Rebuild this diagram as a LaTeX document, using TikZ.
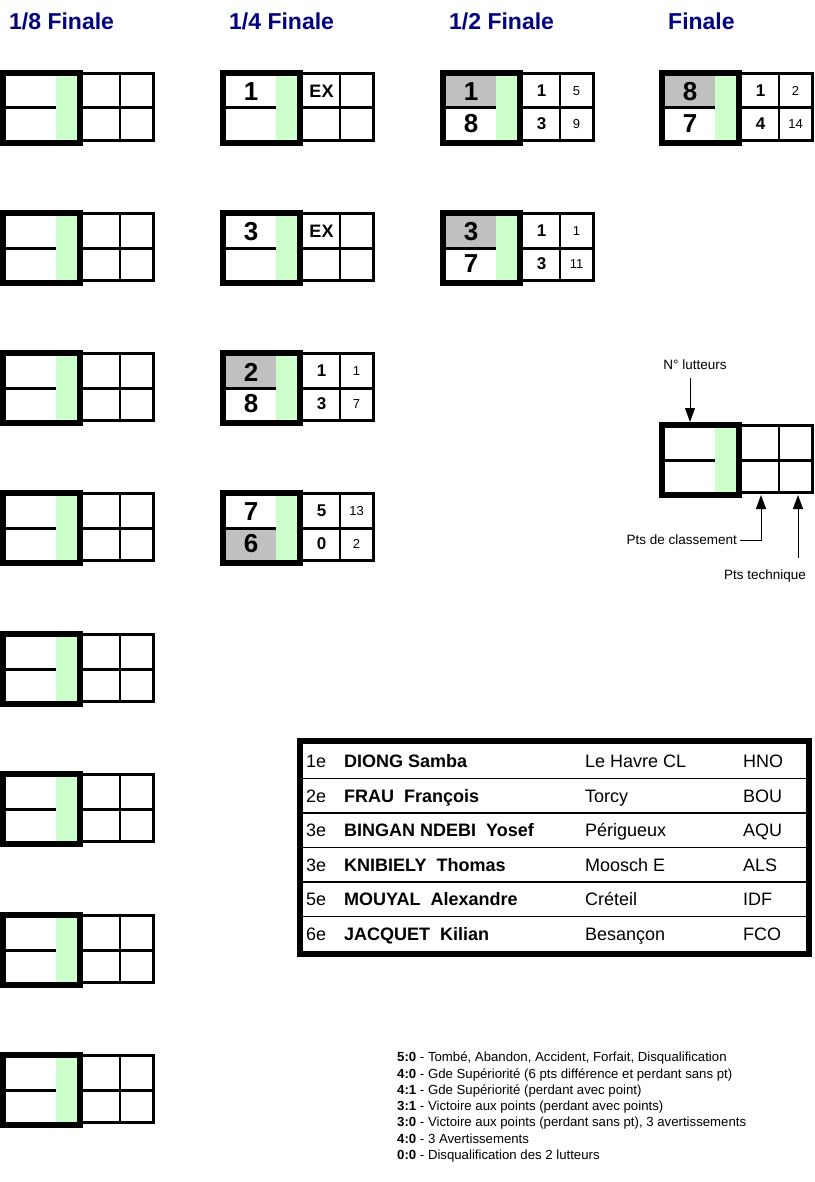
\documentclass[tikz,border=0pt]{standalone}
\usepackage{fontspec}
\setmainfont{Liberation Sans}
\usetikzlibrary{arrows.meta}
\definecolor{navytitle}{RGB}{0,0,128}
\definecolor{cellgreen}{RGB}{204,255,204}
\definecolor{cellgrey}{RGB}{192,192,192}
\tikzset{
  bignum/.style={font=\fontsize{26}{30}\selectfont\bfseries, inner sep=0pt},
  clsnum/.style={font=\fontsize{17}{20}\selectfont\bfseries, inner sep=0pt},
  tecnum/.style={font=\fontsize{13}{15}\selectfont, inner sep=0pt},
  titletext/.style={font=\fontsize{23}{27}\selectfont\bfseries, text=navytitle, anchor=base west, inner sep=0pt},
  tabtext/.style={font=\fontsize{18}{21}\selectfont, anchor=base west, inner sep=0pt},
  smalltext/.style={font=\fontsize{13.5}{16}\selectfont, inner sep=0pt},
  notetext/.style={font=\fontsize{13.2}{16}\selectfont, anchor=base west, inner sep=0pt},
  thickframe/.style={line width=6pt},
  midframe/.style={line width=3pt},
  thinline/.style={line width=1.5pt},
  legarrow/.style={line width=1pt, -{Triangle[length=14pt,width=10pt]}},
}
% #1 x0, #2 y0, #3 grey (t/b/n), #4 top wrestler, #5 bottom wrestler,
% #6 top class pts, #7 top tech pts, #8 bottom class pts, #9 bottom tech pts
\newcommand{\wbox}[9]{%
\begin{scope}[shift={(#1,#2)}]
  \fill[cellgreen] (56,6) rectangle (77,70);
  \if t#3 \fill[cellgrey] (6,6) rectangle (56,38); \fi
  \if b#3 \fill[cellgrey] (6,38) rectangle (56,70); \fi
  \draw[midframe] (80,3.5) rectangle (153.5,70.5);
  \draw[midframe] (80,38) -- (153.5,38);
  \draw[thinline] (120,3.5) -- (120,70.5);
  \draw[midframe] (6,38) -- (56,38);
  \draw[thickframe] (3,3) rectangle (80,73);
  \node[bignum] (w#1-#2-t) at (31,22) {#4};
  \node[bignum] (w#1-#2-b) at (31,54) {#5};
  \node[clsnum] (c#1-#2-t) at (101.5,21) {#6};
  \node[tecnum] (p#1-#2-t) at (136.5,21) {#7};
  \node[clsnum] (c#1-#2-b) at (101.5,54) {#8};
  \node[tecnum] (p#1-#2-b) at (136.5,54) {#9};
\end{scope}}
\begin{document}
\begin{tikzpicture}[x=1pt,y=-1pt]
\useasboundingbox[fill=white] (0,0) rectangle (814,1182);

% titles
\node[titletext] (t8) at (9,30) {1/8 Finale};
\node[titletext] (t4) at (229,30) {1/4 Finale};
\node[titletext] (t2) at (449,30) {1/2 Finale};
\node[titletext] (t1) at (668,30) {Finale};

% 1/8 finale
\foreach \yy in {70,210,350,490,631,771,912,1052}{
  \wbox{0}{\yy}{n}{}{}{}{}{}{}
}
% 1/4 finale
\wbox{220}{70}{n}{1}{}{\fontsize{18}{20}\selectfont EX}{}{}{}
\wbox{220}{210}{n}{3}{}{\fontsize{18}{20}\selectfont EX}{}{}{}
\wbox{220}{350}{t}{2}{8}{1}{1}{3}{7}
\wbox{220}{490}{b}{7}{6}{5}{13}{0}{2}
% 1/2 finale
\wbox{440}{70}{t}{1}{8}{1}{5}{3}{9}
\wbox{440}{210}{t}{3}{7}{1}{1}{3}{11}
% finale
\wbox{659}{70}{t}{8}{7}{1}{2}{4}{14}

% legend
\wbox{659}{422}{n}{}{}{}{}{}{}
\node[smalltext] (nl) at (695,365) {N° lutteurs};
\coordinate (nlstart) at (690,378);
\coordinate (nlend) at (690,422);
\draw[legarrow] (nlstart) -- (nlend);
\node[smalltext, anchor=east] (pc) at (737,540) {Pts de classement};
\coordinate (pcend) at (761,495);
\draw[legarrow] (pc.east) ++(3,0) -| (pcend);
\node[smalltext] (pt) at (765,576) {Pts technique};
\coordinate (ptstart) at (798,558);
\coordinate (ptend) at (798,495);
\draw[legarrow] (ptstart) -- (ptend);

% results table
\fill[white] (300,741) rectangle (809,954);
\foreach \k in {1,...,5}{
  \draw[thinline] (300,744+34.5*\k) -- (809,744+34.5*\k);
}
\draw[thickframe] (300,741) rectangle (809,954);
\foreach \rk/\nm/\cl/\rg [count=\i] in {
  1e/DIONG Samba/Le Havre CL/HNO,
  2e/FRAU~ François/Torcy/BOU,
  3e/BINGAN NDEBI~ Yosef/Périgueux/AQU,
  3e/KNIBIELY~ Thomas/Moosch E/ALS,
  5e/MOUYAL~ Alexandre/Créteil/IDF,
  6e/JACQUET~ Kilian/Besançon/FCO}{
  \pgfmathsetmacro\by{744+34.5*(\i-1)+17.25+6.5}
  \node[tabtext] (r\i a) at (306,\by) {\rk};
  \node[tabtext] (r\i b) at (344,\by) {\bfseries \nm};
  \node[tabtext] (r\i c) at (585,\by) {\cl};
  \node[tabtext] (r\i d) at (743,\by) {\rg};
}

% notes
\node[notetext] (n1) at (397,1061.7) {\textbf{5:0} - Tombé, Abandon, Accident, Forfait, Disqualification};
\node[notetext] (n2) at (397,1078.0) {\textbf{4:0} - Gde Supériorité (6 pts différence et perdant sans pt)};
\node[notetext] (n3) at (397,1094.3) {\textbf{4:1} - Gde Supériorité (perdant avec point)};
\node[notetext] (n4) at (397,1110.6) {\textbf{3:1} - Victoire aux points (perdant avec points)};
\node[notetext] (n5) at (397,1126.9) {\textbf{3:0} - Victoire aux points (perdant sans pt), 3 avertissements};
\node[notetext] (n6) at (397,1143.2) {\textbf{4:0} - 3 Avertissements};
\node[notetext] (n7) at (397,1159.5) {\textbf{0:0} - Disqualification des 2 lutteurs};
\end{tikzpicture}
\end{document}
